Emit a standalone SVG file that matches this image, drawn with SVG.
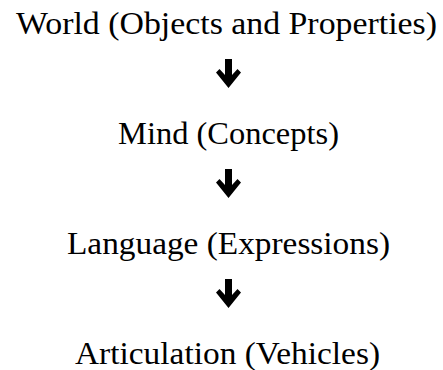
<svg xmlns="http://www.w3.org/2000/svg" width="443" height="370" viewBox="0 0 443 370">
  <style>
    .lbl { font-family: "Liberation Serif", "DejaVu Serif", serif; font-size: 32px; fill: #000; text-anchor: middle; }
    .arr { fill: #000; }
  </style>
  <defs>
    <path id="downArrow" class="arr" d="M-3.5,0 H3.5 V16 L9,10 L12.5,13.5 L0,29 L-12.5,13.5 L-9,10 L-3.5,16 Z"/>
  </defs>
  <rect width="443" height="370" fill="#fff"/>
  <g id="connectors">
    <use href="#downArrow" x="228.5" y="59"/>
    <use href="#downArrow" x="228.5" y="169"/>
    <use href="#downArrow" x="228.5" y="279"/>
  </g>
  <g id="world">
    <text class="lbl" x="226.5" y="34" textLength="421" lengthAdjust="spacingAndGlyphs">World (Objects and Properties)</text>
  </g>
  <g id="mind">
    <text class="lbl" x="228.5" y="144" textLength="221" lengthAdjust="spacingAndGlyphs">Mind (Concepts)</text>
  </g>
  <g id="language">
    <text class="lbl" x="228.5" y="254" textLength="323" lengthAdjust="spacingAndGlyphs">Language (Expressions)</text>
  </g>
  <g id="articulation">
    <text class="lbl" x="227.5" y="364" textLength="305" lengthAdjust="spacingAndGlyphs">Articulation (Vehicles)</text>
  </g>
</svg>
